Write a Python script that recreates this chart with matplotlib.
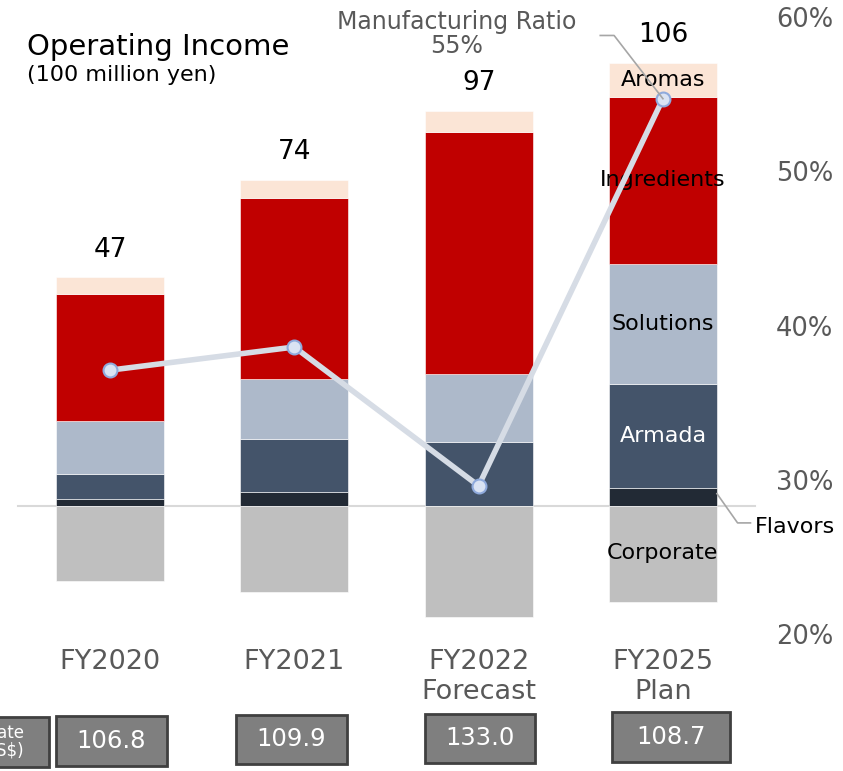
import matplotlib
matplotlib.use("Agg")
import matplotlib.pyplot as plt
from matplotlib.patches import Rectangle

plt.rcParams['font.family'] = ['DejaVu Sans']

# data (100 million yen)
years = ['FY2020', 'FY2021', 'FY2022\nForecast', 'FY2025\nPlan']
flavors = [2.1, 4.4, 0.0, 5.4]
armada = [7.8, 16.0, 19.6, 32.0]
solutions = [16.2, 18.6, 20.9, 36.9]
ingredients = [39.0, 55.5, 74.2, 51.2]
aromas = [5.0, 5.5, 6.4, 10.4]
corporate = [-23.0, -26.4, -34.0, -29.4]
totals = ['47', '74', '97', '106']
mfg_ratio = [37.3, 38.8, 29.8, 54.9]
fx_rate = ['106.8', '109.9', '133.0', '108.7']

seg_names = ['Flavors', 'Armada', 'Solutions', 'Ingredients', 'Aromas']
seg_vals = [flavors, armada, solutions, ingredients, aromas]
seg_colors = ['#222A35', '#44546A', '#ADB9CA', '#C00000', '#FBE5D6']

W, H = 843, 771
fig = plt.figure(figsize=(W / 100, H / 100), dpi=100)
ax = fig.add_axes([0, 0, 1, 1])
ax2 = ax.twinx()

x = list(range(len(years)))
width = 0.586

bottom = [0.0] * len(x)
for name, vals, col in zip(seg_names, seg_vals, seg_colors):
    ax.bar(x, vals, width, bottom=bottom, color=col, edgecolor='white',
           linewidth=0.4, zorder=2)
    bottom = [b + v for b, v in zip(bottom, vals)]
ax.bar(x, corporate, width, color='#BFBFBF', edgecolor='white', linewidth=0.4, zorder=2)

# zero line
ax.plot([-0.50, 3.50], [0, 0], color='#D9D9D9', lw=1.5, zorder=1)

# totals
for xi, top, t in zip(x, bottom, totals):
    ax.annotate(t, (xi, top), xytext=(0, 20), textcoords='offset points',
                ha='center', va='center', fontsize=19, color='black')

# segment labels on the plan bar
last = len(x) - 1
cum = 0.0
for name, vals in zip(seg_names, seg_vals):
    v = vals[last]
    if name != 'Flavors':
        c = 'white' if name == 'Armada' else 'black'
        ax.text(last, cum + v / 2, name, ha='center', va='center', fontsize=16,
                color=c, zorder=4)
    cum += v
ax.text(last, corporate[last] * 0.5 + 0.2, 'Corporate', ha='center', va='center',
        fontsize=16, color='black', zorder=4)

# Flavors leader
fl_y = flavors[last] * 0.7
ax.plot([last + width / 2, last + 0.405, last + 0.475], [fl_y, -5.2, -5.2],
        color='#A6A6A6', lw=1.2, zorder=3)
ax.text(last + 0.5, -6.6, 'Flavors', ha='left', va='center', fontsize=16, color='black')

# categories
for xi, lab in zip(x, years):
    for k, line in enumerate(lab.split('\n')):
        ax.text(xi, -47.9 - 9.2 * k, line, ha='center', va='center', fontsize=19.5,
                color='#595959')

# exchange rate boxes (slightly hand-placed in the original)
box_dx = [0.008, -0.016, 0.008, 0.044]
box_w = [0.6, 0.6, 0.6, 0.64]
box_y = [-64.5, -64.0, -63.7, -63.2]
for xi, v, dx, bw, by in zip(x, fx_rate, box_dx, box_w, box_y):
    ax.add_patch(Rectangle((xi + dx - bw / 2, by - 15.2), bw, 15.2, facecolor='#7F7F7F',
                           edgecolor='#404040', lw=2, clip_on=False, zorder=3))
    ax.text(xi + dx, by - 7.6, v, ha='center', va='center', fontsize=17.5,
            color='white', zorder=4)
ax.add_patch(Rectangle((-1.0, -80.0), 0.669, 15.4, facecolor='#7F7F7F',
                       edgecolor='#404040', lw=2, clip_on=False, zorder=3))
ax.text(-0.465, -72.3, 'Exchange rate\n(JPY/US$)', ha='right', va='center',
        fontsize=12, color='white', linespacing=1.0, zorder=4)

ax.set_xlim(-0.597, 3.977)
ax.set_ylim(-81.3, 155.2)
ax.axis('off')

# manufacturing ratio line
ax2.plot(x, mfg_ratio, color='#D6DCE5', lw=4, zorder=5)
ax2.plot(x, mfg_ratio, 'o', ms=10, mfc='#DAE3F3', mec='#8FAADC', mew=1.5, zorder=6)
ax2.set_ylim(11.31, 61.30)
ax2.set_xlim(-0.597, 3.977)
for p in [20, 30, 40, 50, 60]:
    ax2.text(3.77, p, f'{p}%', ha='center', va='center', fontsize=18.5, color='#595959')
ax2.axis('off')

# ratio callout
ax2.plot([2.66, 2.735, 3.0], [59.0, 59.0, mfg_ratio[3]], color='#A6A6A6', lw=1.2, zorder=7)
ax2.text(1.88, 59.1, 'Manufacturing Ratio\n55%', ha='center', va='center',
         fontsize=17, color='#595959', linespacing=1.0)

# title
fig.text(27 / W, 1 - 47 / H, 'Operating Income', ha='left', va='center', fontsize=21)
fig.text(27 / W, 1 - 75 / H, '(100 million yen)', ha='left', va='center', fontsize=16)

fig.savefig('out.png', dpi=100)
